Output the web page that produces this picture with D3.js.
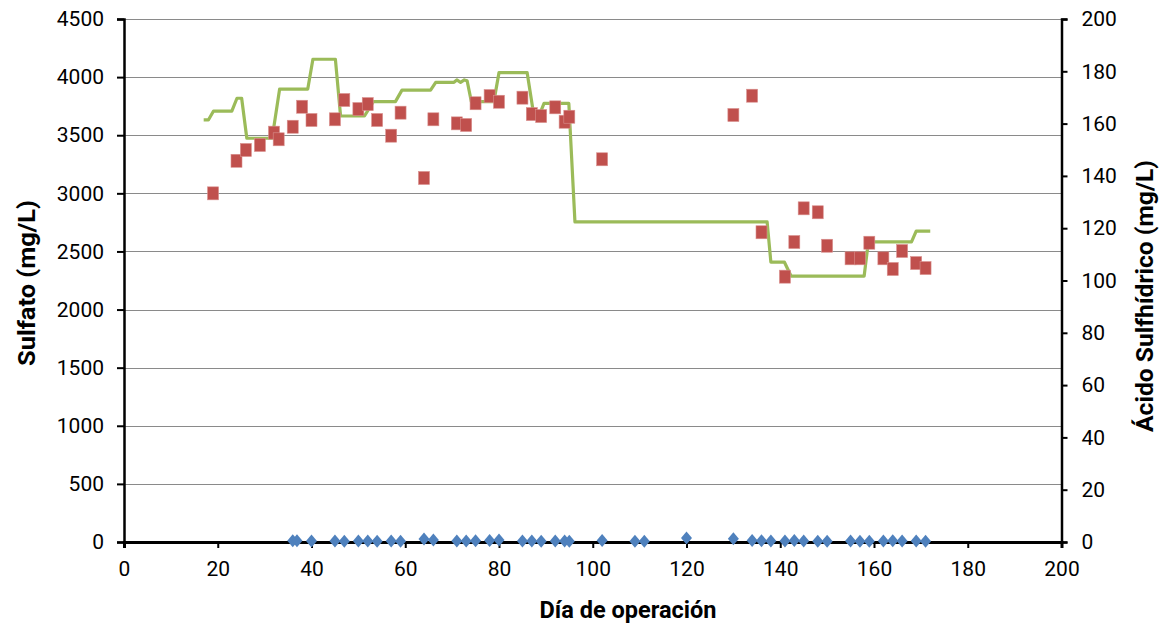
<!DOCTYPE html>
<html>
<head>
<meta charset="utf-8">
<script src="https://cdn.jsdelivr.net/npm/d3@7"></script>
<style>
  html, body { margin: 0; padding: 0; background: #ffffff; }
  svg { display: block; font-family: Roboto, "Liberation Sans", Arial, sans-serif; }
  .tick text { fill: #000; }
</style>
</head>
<body>
<svg id="chart" width="1168" height="629"></svg>
<script>
// Operating day and sulfate concentration (left axis, mg/L)
const sulfateDays = [19, 24, 26, 29, 32, 33, 36, 38, 40, 45, 47, 50, 52, 54, 57, 59, 64, 66, 71, 73, 75, 78, 80, 85, 87, 89, 92, 94, 95, 102, 130, 134, 136, 141, 143, 145, 148, 150, 155, 157, 159, 162, 164, 166, 169, 171];
const sulfateValues = [3000, 3280, 3373, 3416, 3522, 3465, 3573, 3745, 3631, 3637, 3803, 3725, 3768, 3631, 3496, 3694, 3132, 3637, 3602, 3588, 3775, 3837, 3788, 3823, 3682, 3665, 3740, 3616, 3659, 3293, 3674, 3840, 2665, 2283, 2581, 2871, 2837, 2549, 2441, 2441, 2575, 2441, 2349, 2504, 2400, 2357];

// Hydrogen sulfide fed (right axis, mg/L), stepwise profile
const feedDays = [17, 18, 19.1, 23, 24.1, 25.1, 26.2, 31.6, 33.2, 39.2, 40.3, 45.1, 46.2, 51.3, 53.2, 57.9, 59.3, 65.4, 66.5, 70.4, 71, 71.8, 72.6, 73.2, 74.1, 78.9, 80, 86, 87.3, 88.9, 89.6, 94.9, 96.2, 137.2, 138, 140.9, 142.3, 157.9, 158.8, 168, 169, 172];
const feedValues = [161.4, 161.4, 164.8, 164.8, 169.7, 169.7, 154.4, 154.4, 173.2, 173.2, 184.6, 184.6, 162.9, 162.9, 168.4, 168.4, 172.8, 172.8, 175.8, 175.8, 176.7, 175.8, 176.7, 176.4, 168.4, 168.4, 179.5, 179.5, 164.6, 164.6, 167.7, 167.7, 122.4, 122.4, 107, 107, 101.7, 101.7, 114.8, 114.8, 118.9, 118.9];

// Hydrogen sulfide in the effluent (right axis, mg/L)
const effluentDays = [36, 36.9, 40, 45, 47, 50, 52, 54, 57, 59, 64, 66, 71, 73, 75, 78, 80, 85, 87, 89, 92, 94, 95, 102, 109, 111, 120, 130, 134, 136, 138, 141, 143, 145, 148, 150, 155, 157, 159, 162, 164, 166, 169, 171];
const effluentValues = [0.5, 0.5, 0.4, 0.4, 0.3, 0.4, 0.4, 0.3, 0.4, 0.3, 1.1, 0.8, 0.4, 0.4, 0.5, 0.6, 0.8, 0.4, 0.4, 0.3, 0.4, 0.4, 0.3, 0.6, 0.3, 0.3, 1.5, 1.2, 0.6, 0.5, 0.4, 0.4, 0.6, 0.4, 0.3, 0.3, 0.4, 0.3, 0.3, 0.4, 0.5, 0.4, 0.4, 0.3];

// Tick labels
const xTicks = [0, 20, 40, 60, 80, 100, 120, 140, 160, 180, 200];
const leftTicks = [0, 500, 1000, 1500, 2000, 2500, 3000, 3500, 4000, 4500];
const rightTicks = [0, 20, 40, 60, 80, 100, 120, 140, 160, 180, 200];

const svg = d3.select("#chart");
const W = 1168, H = 629;
const m = { left: 124, right: 106.5, top: 19, bottom: 87 };
const plotW = W - m.left - m.right;
const plotH = H - m.top - m.bottom;

const x = d3.scaleLinear().domain([0, 200]).range([m.left, m.left + plotW]);
const yL = d3.scaleLinear().domain([0, 4500]).range([m.top + plotH, m.top]);
const yR = d3.scaleLinear().domain([0, 200]).range([m.top + plotH, m.top]);

// Horizontal gridlines
svg.append("g")
  .selectAll("line")
  .data(leftTicks.filter(t => t > 0))
  .join("line")
  .attr("x1", m.left).attr("x2", m.left + plotW)
  .attr("y1", d => Math.round(yL(d)) + 0.5).attr("y2", d => Math.round(yL(d)) + 0.5)
  .attr("stroke", "#8a8a8a").attr("stroke-width", 1);

// Feed H2S step line
const feed = feedDays.map((d, i) => [d, feedValues[i]]);
svg.append("path")
  .datum(feed)
  .attr("fill", "none")
  .attr("stroke", "#9BBB59")
  .attr("stroke-width", 3.2)
  .attr("stroke-linejoin", "round")
  .attr("d", d3.line().x(d => x(d[0])).y(d => yR(d[1])));

// Sulfate squares
const sulf = sulfateDays.map((d, i) => [d, sulfateValues[i]]);
const sqW = 11, sqH = 13;
svg.append("g")
  .selectAll("rect")
  .data(sulf)
  .join("rect")
  .attr("x", d => x(d[0]) - sqW / 2)
  .attr("y", d => yL(d[1]) - sqH / 2)
  .attr("width", sqW).attr("height", sqH)
  .attr("fill", "#C0504D")
  .attr("stroke", "#d9908e").attr("stroke-width", 0.6);

// Axes
const fontSize = 21;
const axisBottom = d3.axisBottom(x).tickValues(xTicks).tickSize(6).tickPadding(13).tickFormat(d3.format("d"));
const gx = svg.append("g").attr("transform", `translate(0,${m.top + plotH})`).call(axisBottom);
gx.select(".domain").attr("stroke", "#000").attr("stroke-width", 3);
gx.selectAll(".tick line").attr("stroke", "#000").attr("stroke-width", 2);
gx.selectAll(".tick text").attr("font-size", fontSize).attr("font-family", "Roboto");

const axisLeft = d3.axisLeft(yL).tickValues(leftTicks).tickSize(7).tickPadding(13).tickFormat(d3.format("d"));
const gl = svg.append("g").attr("transform", `translate(${m.left},0)`).call(axisLeft);
gl.select(".domain").attr("stroke", "#000").attr("stroke-width", 2.5);
gl.selectAll(".tick line").attr("stroke", "#000").attr("stroke-width", 2);
gl.selectAll(".tick text").attr("font-size", fontSize).attr("font-family", "Roboto");

const axisRight = d3.axisRight(yR).tickValues(rightTicks).tickSize(6).tickPadding(14).tickFormat(d3.format("d"));
const gr = svg.append("g").attr("transform", `translate(${m.left + plotW},0)`).call(axisRight);
gr.select(".domain").attr("stroke", "#000").attr("stroke-width", 2.5);
gr.selectAll(".tick line").attr("stroke", "#000").attr("stroke-width", 2);
gr.selectAll(".tick text").attr("font-size", fontSize).attr("font-family", "Roboto");

// Effluent H2S diamonds
const eff = effluentDays.map((d, i) => [d, effluentValues[i]]);
svg.append("g")
  .selectAll("path")
  .data(eff)
  .join("path")
  .attr("transform", d => `translate(${x(d[0])},${yR(d[1])})`)
  .attr("d", "M0,-6.5L5.5,0L0,6.5L-5.5,0Z")
  .attr("fill", "#4F81BD");

// Axis titles
svg.append("text")
  .attr("x", 628).attr("y", 618)
  .attr("text-anchor", "middle")
  .attr("font-size", 24).attr("font-weight", "bold")
  .attr("textLength", 177).attr("lengthAdjust", "spacingAndGlyphs")
  .text("Día de operación");

svg.append("text")
  .attr("transform", "translate(35,283) rotate(-90)")
  .attr("text-anchor", "middle")
  .attr("font-size", 24).attr("font-weight", "bold")
  .attr("textLength", 166).attr("lengthAdjust", "spacingAndGlyphs")
  .text("Sulfato (mg/L)");

svg.append("text")
  .attr("transform", "translate(1153,296) rotate(-90)")
  .attr("text-anchor", "middle")
  .attr("font-size", 24).attr("font-weight", "bold")
  .attr("textLength", 272).attr("lengthAdjust", "spacingAndGlyphs")
  .text("Ácido Sulfhídrico (mg/L)");
</script>
</body>
</html>
